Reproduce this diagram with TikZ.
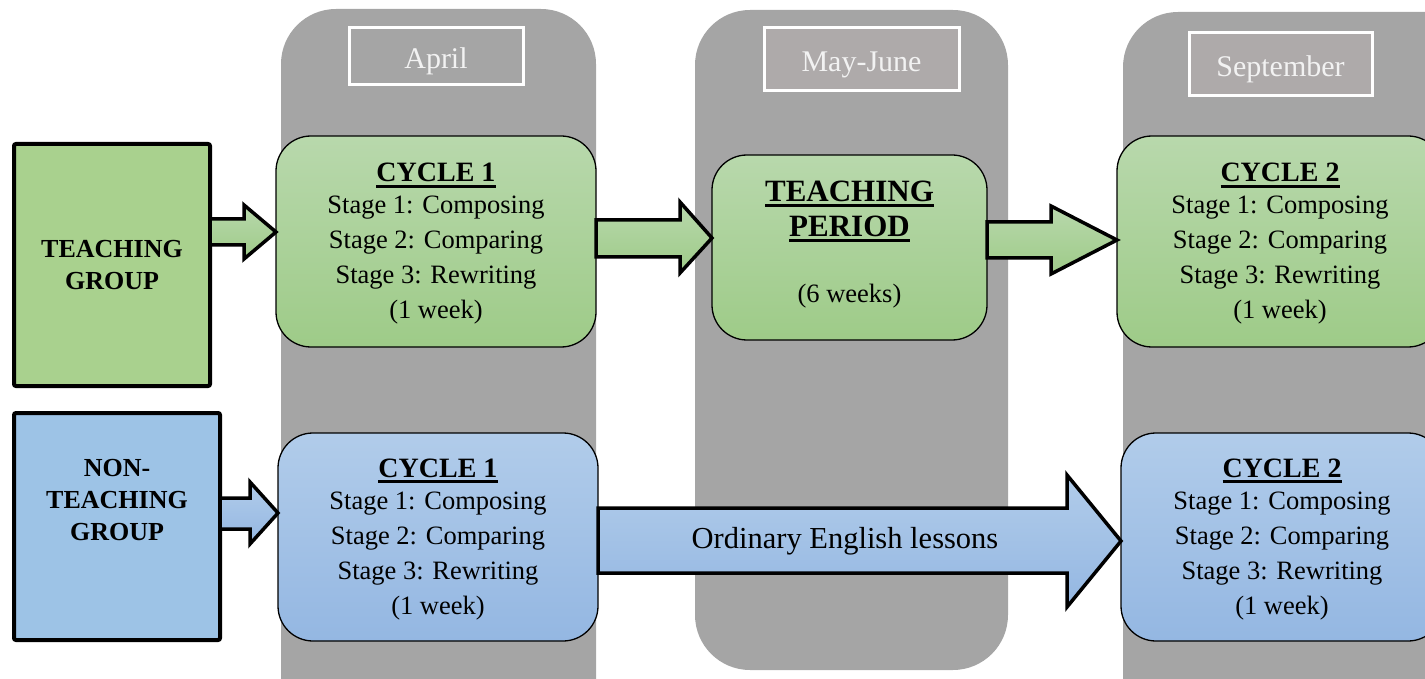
\documentclass[tikz,border=0pt]{standalone}
\usepackage{fontspec}
\setmainfont{Liberation Serif}
\usetikzlibrary{calc}
\newcommand\uln[1]{\setbox0\hbox{#1}\rlap{\rule[-0.2em]{\wd0}{0.1em}}\box0}
\newcommand\topstrut{\rule{0pt}{23.5pt}}
\definecolor{colgray}{RGB}{165,165,165}
\definecolor{mongray}{RGB}{174,170,170}
\definecolor{gtop}{RGB}{184,216,172}
\definecolor{gbot}{RGB}{158,203,136}
\definecolor{btop}{RGB}{177,204,234}
\definecolor{bbot}{RGB}{148,183,226}
\definecolor{tgfill}{RGB}{169,209,142}
\definecolor{ntfill}{RGB}{157,195,230}
\tikzset{
  col/.style={fill=colgray, rounded corners=55pt},
  month/.style={draw=white, line width=3pt, text=white!95!black, inner sep=0pt, outer sep=0pt,
    text height=24pt, text depth=0pt, font=\fontsize{30}{36}\selectfont},
  grp/.style={draw=black, line width=4pt, rounded corners=2pt, inner sep=0pt, outer sep=0pt, align=center,
    font=\bfseries\fontsize{26}{31.5}\selectfont},
  gbox/.style={draw=black, line width=1.3pt, rounded corners=35pt, top color=gtop, bottom color=gbot,
    inner sep=0pt, outer sep=0pt, align=center, font=\fontsize{26.5}{35}\selectfont},
  bbox/.style={gbox, top color=btop, bottom color=bbot},
  fat/.style={draw=black, line width=3.5pt, line join=miter},
  garrow/.style={fat, top color=gtop, bottom color=gbot},
  barrow/.style={fat, top color=btop, bottom color=bbot},
}
\begin{document}
\begin{tikzpicture}[x=1pt,y=-1pt]
\useasboundingbox (0,0) rectangle (1425,679);
\clip (0,0) rectangle (1425,679);
% columns
\fill[col] (281,9) rectangle (596,740);
\fill[col] (695,10) rectangle (1008,670);
\fill[col] (1123,12) rectangle (1500,740);
% months
\node[month, fill=colgray, minimum width=174pt, minimum height=57pt] (apr) at (436,56.5) {April};
\node[month, fill=mongray, minimum width=195pt, minimum height=63pt] (may) at (861.5,59.5) {May-June};
\node[month, fill=mongray, minimum width=183pt, minimum height=63pt] (sep) at (1280.5,64.5) {September};
% groups
\node[grp, fill=tgfill, minimum width=196pt, minimum height=242pt] (tg) at (112,265) {TEACHING\\GROUP};
\node[grp, fill=ntfill, minimum width=206pt, minimum height=227pt] (ntg) at (117,526.5) {};
\node[font=\bfseries\fontsize{26}{32}\selectfont, align=center] (ntgl) at (117,500) {NON-\\TEACHING\\GROUP};
% cycle boxes
\node[gbox, minimum width=320pt, minimum height=211pt] (c1g) at (436,241.5)
  {\topstrut{\bfseries\fontsize{28}{35}\selectfont\uln{CYCLE 1}}\\[-3pt]Stage 1: Composing\\Stage 2: Comparing\\Stage 3: Rewriting\\(1 week)};
\node[gbox, minimum width=275pt, minimum height=185pt] (tp) at (849.5,247.5)
  {{\bfseries\fontsize{31}{37}\selectfont\uln{TEACHING}}\\{\bfseries\fontsize{31}{37}\selectfont\uln{PERIOD}}\\[31pt](6 weeks)\rule[-12pt]{0pt}{0pt}};
\node[gbox, minimum width=326pt, minimum height=211pt] (c2g) at (1280,241.5)
  {\topstrut{\bfseries\fontsize{28}{35}\selectfont\uln{CYCLE 2}}\\[-3pt]Stage 1: Composing\\Stage 2: Comparing\\Stage 3: Rewriting\\(1 week)};
\node[bbox, minimum width=320pt, minimum height=208pt] (c1b) at (438,537)
  {\topstrut{\bfseries\fontsize{28}{35}\selectfont\uln{CYCLE 1}}\\[-3pt]Stage 1: Composing\\Stage 2: Comparing\\Stage 3: Rewriting\\(1 week)};
\node[bbox, minimum width=322pt, minimum height=208pt] (c2b) at (1282,537)
  {\topstrut{\bfseries\fontsize{28}{35}\selectfont\uln{CYCLE 2}}\\[-3pt]Stage 1: Composing\\Stage 2: Comparing\\Stage 3: Rewriting\\(1 week)};
% arrows
\draw[garrow] let \p1=(tg.east), \p2=(c1g.west) in
  (\x1,219) -- (\x2-32pt,219) -- (\x2-32pt,205) -- (\x2,232) -- (\x2-32pt,259) -- (\x2-32pt,245) -- (\x1,245) -- cycle;
\draw[garrow] let \p1=(c1g.east), \p2=(tp.west) in
  (\x1,220) -- (\x2-32pt,220) -- (\x2-32pt,202) -- (\x2,238) -- (\x2-32pt,273) -- (\x2-32pt,257) -- (\x1,257) -- cycle;
\draw[garrow] let \p1=(tp.east), \p2=(c2g.west) in
  (\x1,222) -- (\x2-66pt,222) -- (\x2-66pt,206) -- (\x2,240) -- (\x2-66pt,274) -- (\x2-66pt,258) -- (\x1,258) -- cycle;
\draw[barrow] let \p1=(ntg.east), \p2=(c1b.west) in
  (\x1,498) -- (\x2-28pt,498) -- (\x2-28pt,482) -- (\x2,513) -- (\x2-28pt,544) -- (\x2-28pt,529) -- (\x1,529) -- cycle;
\draw[barrow] let \p1=(c1b.east), \p2=(c2b.west) in
  (\x1,508) -- (\x2-54pt,508) -- (\x2-54pt,475) -- (\x2,541) -- (\x2-54pt,607) -- (\x2-54pt,573) -- (\x1,573) -- cycle;
\node[font=\fontsize{30.5}{36}\selectfont] (oel) at (845,541) {Ordinary English lessons};
\end{tikzpicture}
\end{document}
